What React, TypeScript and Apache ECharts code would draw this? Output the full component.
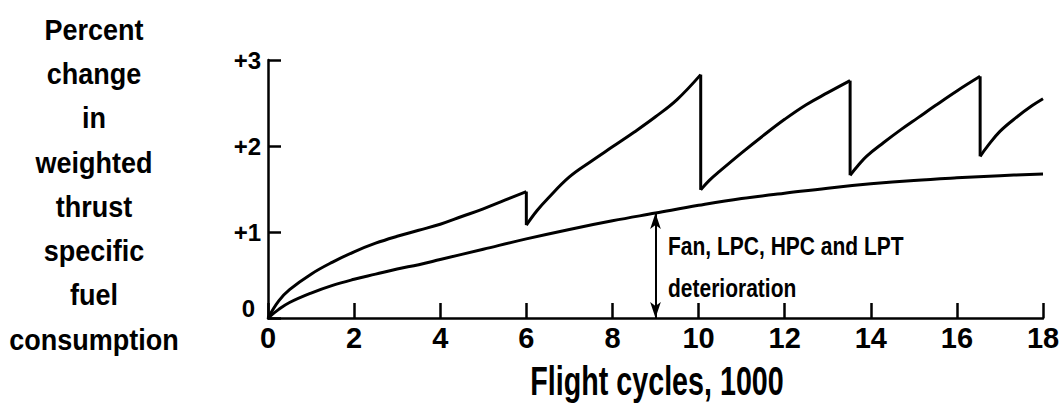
import React, { useEffect, useRef } from "react";
import * as echarts from "echarts";

const FONT = "'Liberation Sans', Arial, sans-serif";

// Lower curve: Fan, LPC, HPC and LPT deterioration
const baseline: [number, number][] = [
  [0, 0], [0.25, 0.1], [0.5, 0.18], [1, 0.29], [1.5, 0.38], [2, 0.45], [2.5, 0.51], [3, 0.57],
  [3.5, 0.62], [4, 0.68], [5, 0.8], [6, 0.92], [7, 1.03], [8, 1.13], [9, 1.22], [10, 1.31],
  [11, 1.39], [12, 1.45], [13, 1.51], [14, 1.56], [15, 1.6], [16, 1.63], [17, 1.655], [18, 1.675],
];

// Upper saw-tooth curve, one array per segment between refurbishments
const seg1: [number, number][] = [
  [0, 0], [0.25, 0.2], [0.5, 0.33], [1, 0.51], [1.5, 0.65], [2, 0.77], [2.5, 0.87], [3, 0.95],
  [3.5, 1.02], [4, 1.09], [4.5, 1.18], [5, 1.27], [5.5, 1.37], [6, 1.47],
];
const seg2: [number, number][] = [
  [6, 1.08], [6.25, 1.25], [6.5, 1.39], [7, 1.64], [7.5, 1.82], [8, 1.99], [8.5, 2.16],
  [9, 2.34], [9.5, 2.54], [10.05, 2.83],
];
const seg3: [number, number][] = [
  [10.05, 1.49], [10.25, 1.6], [10.5, 1.71], [11, 1.92], [11.5, 2.12], [12, 2.31],
  [12.5, 2.48], [13, 2.62], [13.52, 2.76],
];
const seg4: [number, number][] = [
  [13.52, 1.66], [13.7, 1.77], [13.9, 1.88], [14.3, 2.04], [14.7, 2.19], [15.1, 2.33],
  [15.5, 2.47], [16, 2.64], [16.54, 2.81],
];
const seg5: [number, number][] = [
  [16.54, 1.88], [16.7, 1.99], [17, 2.17], [17.4, 2.34], [17.75, 2.47], [18, 2.55],
];
const segments = [seg1, seg2, seg3, seg4, seg5];

const arrowX = 9;
const yTitleLines = ["Percent", "change", "in", "weighted", "thrust", "specific", "fuel", "consumption"];
const xTitle = "Flight cycles, 1000";
const noteLines = ["Fan, LPC, HPC and LPT", "deterioration"];

export default function App() {
  const ref = useRef<HTMLDivElement>(null);
  useEffect(() => {
    if (!ref.current) return;
    const chart = echarts.init(ref.current, undefined, { renderer: "svg" });
    const lineStyle = { color: "#000", width: 3 };
    const series: any[] = [];
    segments.forEach((s, i) => {
      series.push({
        type: "line",
        data: s,
        smooth: 0.4,
        symbol: "none",
        lineStyle,
        clip: false,
        z: 3,
      });
      if (i < segments.length - 1) {
        const next = segments[i + 1];
        series.push({
          type: "line",
          data: [s[s.length - 1], next[0]],
          symbol: "none",
          lineStyle,
          clip: false,
          z: 3,
        });
      }
    });
    const arrowTop = baseline.find((p) => p[0] === arrowX)![1];
    series.push({
      type: "line",
      data: baseline,
      smooth: 0.4,
      symbol: "none",
      lineStyle,
      clip: false,
      z: 3,
      markLine: {
        silent: true,
        symbol: ["arrow", "arrow"],
        symbolSize: [8, 16],
        label: { show: false },
        lineStyle: { color: "#000", width: 2, type: "solid" },
        data: [[{ coord: [arrowX, arrowTop] }, { coord: [arrowX, 0] }]],
      },
    });

    chart.setOption({
      animation: false,
      backgroundColor: "#fff",
      grid: { left: 268, right: 20, top: 60, bottom: 85 },
      xAxis: {
        type: "value",
        min: 0,
        max: 18,
        interval: 2,
        axisLine: { show: true, lineStyle: { color: "#000", width: 2.5 } },
        axisTick: { show: true, inside: true, length: 15, lineStyle: { color: "#000", width: 2.5 } },
        axisLabel: { margin: 5, fontFamily: FONT, fontWeight: "bold", fontSize: 29, color: "#000" },
        splitLine: { show: false },
      },
      yAxis: {
        type: "value",
        min: 0,
        max: 3,
        interval: 1,
        axisLine: { show: true, lineStyle: { color: "#000", width: 2.5 } },
        axisTick: { show: true, inside: true, length: 13, lineStyle: { color: "#000", width: 2.5 } },
        axisLabel: {
          margin: 7,
          fontFamily: FONT,
          fontWeight: "bold",
          fontSize: 24,
          color: "#000",
          formatter: (v: number) => (v === 0 ? "{z|0}" : "+" + v),
          rich: {
            z: { fontFamily: FONT, fontWeight: "bold", fontSize: 24, color: "#000", padding: [0, 6, 20, 0] },
          },
        },
        splitLine: { show: false },
      },
      graphic: [
        {
          type: "text",
          x: 94,
          y: 7,
          scaleX: 0.9,
          style: {
            text: yTitleLines.join("\n"),
            fontFamily: FONT,
            fontWeight: "bold",
            fontSize: 30,
            lineHeight: 44.3,
            fill: "#000",
            align: "center",
            verticalAlign: "top",
          },
        },
        {
          type: "text",
          x: 657,
          y: 381,
          scaleX: 0.7,
          style: {
            text: xTitle,
            fontFamily: FONT,
            fontWeight: "bold",
            fontSize: 41,
            fill: "#000",
            align: "center",
            verticalAlign: "middle",
          },
        },
        {
          type: "text",
          x: 668,
          y: 225,
          scaleX: 0.84,
          style: {
            text: noteLines.join("\n"),
            fontFamily: FONT,
            fontWeight: "bold",
            fontSize: 25,
            lineHeight: 42,
            fill: "#000",
            align: "left",
            verticalAlign: "top",
          },
        },
      ],
      series,
    });
    return () => chart.dispose();
  }, []);
  return (
    <div
      ref={ref}
      style={{ position: "absolute", left: 0, top: 0, width: 1063, height: 403 }}
    />
  );
}
